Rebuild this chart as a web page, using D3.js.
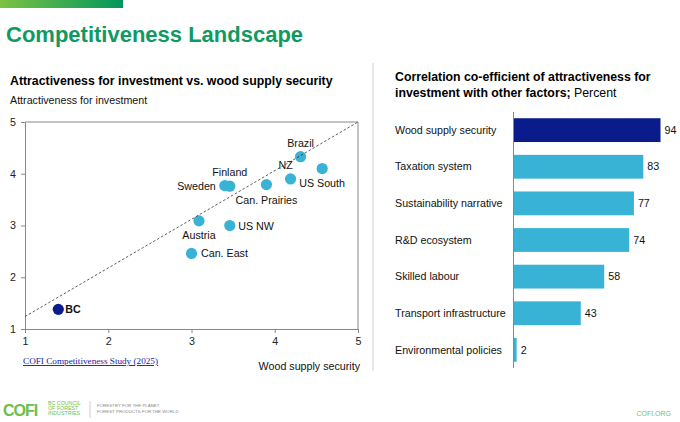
<!DOCTYPE html>
<html><head><meta charset="utf-8">
<script src="https://cdn.jsdelivr.net/npm/d3@7"></script>
<style>
html,body{margin:0;padding:0;background:#fff;}
svg{display:block;font-family:"Liberation Sans",Arial,sans-serif;}
</style></head>
<body><svg id="c" width="680" height="422"></svg>
<script>
// ---- data ----
const regions = ["BC","Brazil","US South","NZ","Can. Prairies","Finland","Sweden","Austria","US NW","Can. East"];
const woodSupply = [1.40,4.31,4.57,4.19,3.90,3.46,3.40,3.09,3.46,3.00];
const attractiveness = [1.38,4.33,4.10,3.90,3.79,3.76,3.77,3.09,3.00,2.46];
const trendX = [1,5];
const trendY = [1.24,5];
const scatterTicks = [1,2,3,4,5];
const factors = ["Wood supply security","Taxation system","Sustainability narrative","R&D ecosystem","Skilled labour","Transport infrastructure","Environmental policies"];
const correlation = [94,83,77,74,58,43,2];

const svg = d3.select("#c");
const NAVY = "#0a1c8c", LIGHT = "#38b3d6", GREEN = "#0f9a62";
const FS = 10.7;

// header bar
const defs = svg.append("defs");
const g1 = defs.append("linearGradient").attr("id","hb");
g1.append("stop").attr("offset","0%").attr("stop-color","#7cc243");
g1.append("stop").attr("offset","100%").attr("stop-color","#00965e");
svg.append("rect").attr("x",0).attr("y",0).attr("width",123).attr("height",8).attr("fill","url(#hb)");
svg.append("text").attr("x",6).attr("y",42).attr("font-size",22).attr("font-weight","bold")
  .attr("fill",GREEN).text("Competitiveness Landscape");

// left subtitle
svg.append("text").attr("x",10).attr("y",85).attr("font-size",12.3).attr("font-weight","bold")
  .attr("fill","#000").text("Attractiveness for investment vs. wood supply security");
svg.append("text").attr("x",10).attr("y",104).attr("font-size",FS).attr("fill","#111")
  .text("Attractiveness for investment");

// scatter
const x = d3.scaleLinear().domain([1,5]).range([25,358]);
const y = d3.scaleLinear().domain([1,5]).range([329,122]);
const sg = svg.append("g");
sg.append("line").attr("x1",x(1)).attr("x2",x(5)).attr("y1",y(5)).attr("y2",y(5)).attr("stroke","#888");
sg.append("line").attr("x1",x(5)).attr("x2",x(5)).attr("y1",y(5)).attr("y2",y(1)).attr("stroke","#888");
const ax = sg.append("g").attr("transform",`translate(0,${y(1)})`)
  .call(d3.axisBottom(x).tickValues(scatterTicks).tickFormat(d3.format("d")).tickSize(4).tickSizeOuter(0).tickPadding(4));
const ay = sg.append("g").attr("transform",`translate(${x(1)},0)`)
  .call(d3.axisLeft(y).tickValues(scatterTicks).tickFormat(d3.format("d")).tickSize(4).tickSizeOuter(0).tickPadding(5));
[ax,ay].forEach(a=>{
  a.selectAll("path,line").attr("stroke","#888");
  a.selectAll("text").attr("font-size",FS).attr("fill","#222").attr("font-family","Liberation Sans,Arial,sans-serif");
});

const pts = regions.map((r,i)=>({r, x:woodSupply[i], y:attractiveness[i]}));
sg.selectAll("circle.pt").data(pts).enter().append("circle")
  .attr("cx",d=>x(d.x)).attr("cy",d=>y(d.y)).attr("r",5.6)
  .attr("fill",d=>d.r==="BC"?NAVY:LIGHT);

sg.append("line").attr("x1",x(trendX[0])).attr("y1",y(trendY[0])).attr("x2",x(trendX[1])).attr("y2",y(trendY[1]))
  .attr("stroke","#333").attr("stroke-width",0.8).attr("stroke-dasharray","2.5,2");

// label placement offsets (relative to point): dx, dy(baseline), anchor
const lab = {
  "BC":[7,4,"start"], "Brazil":[0,-10,"middle"], "US South":[-23,18,"start"],
  "NZ":[-5,-10,"middle"], "Can. Prairies":[0,19,"middle"], "Finland":[0,-10,"middle"],
  "Sweden":[-9,4,"end"], "Austria":[0,18,"middle"], "US NW":[8.5,4,"start"], "Can. East":[9.5,4,"start"]
};
sg.selectAll("text.lbl").data(pts).enter().append("text")
  .attr("x",d=>x(d.x)+lab[d.r][0])
  .attr("y",d=>y(d.y)+lab[d.r][1])
  .attr("text-anchor",d=>lab[d.r][2])
  .attr("font-size",FS).attr("fill","#111")
  .attr("font-weight",d=>d.r==="BC"?"bold":"normal")
  .text(d=>d.r);

svg.append("text").attr("x",23).attr("y",364).attr("font-size",9.2)
  .attr("font-family","Liberation Serif,Times New Roman,serif").attr("fill","#1a1aa6")
  .attr("text-decoration","underline").text("COFI Competitiveness Study (2025)");
svg.append("text").attr("x",360).attr("y",370).attr("text-anchor","end").attr("font-size",FS).attr("fill","#111")
  .text("Wood supply security");

// divider
svg.append("line").attr("x1",373).attr("x2",373).attr("y1",63).attr("y2",371).attr("stroke","#d0d0d0");

// right title
svg.append("text").attr("x",395).attr("y",81).attr("font-size",12.3).attr("font-weight","bold").attr("fill","#000")
  .text("Correlation co-efficient of attractiveness for");
const t2 = svg.append("text").attr("x",395).attr("y",97).attr("font-size",12.3).attr("fill","#000");
t2.append("tspan").attr("font-weight","bold").text("investment with other factors;");
t2.append("tspan").text(" Percent");

// bars
const yb = d3.scaleBand().domain(factors).range([112,368]).paddingInner(0.35).paddingOuter(0.17);
const xb = d3.scaleLinear().domain([0,100]).range([513.5,513.5+156.4]);
const bg = svg.append("g");
const bars = factors.map((f,i)=>({f, v:correlation[i], i}));
bg.selectAll("rect").data(bars).enter().append("rect")
  .attr("x",xb(0)).attr("y",d=>yb(d.f)).attr("width",d=>xb(d.v)-xb(0)).attr("height",yb.bandwidth())
  .attr("fill",d=>d.i===0?NAVY:LIGHT);
bg.append("line").attr("x1",xb(0)).attr("x2",xb(0)).attr("y1",112).attr("y2",368).attr("stroke","#888");
bg.selectAll("text.v").data(bars).enter().append("text")
  .attr("x",d=>xb(d.v)+4).attr("y",d=>yb(d.f)+yb.bandwidth()/2).attr("dy","0.35em")
  .attr("font-size",FS).attr("fill","#111").text(d=>d.v);
bg.selectAll("text.c").data(bars).enter().append("text")
  .attr("x",395).attr("y",d=>yb(d.f)+yb.bandwidth()/2).attr("dy","0.35em")
  .attr("font-size",FS).attr("fill","#111").text(d=>d.f);

// footer
const fg = svg.append("g");
fg.append("text").attr("x",3).attr("y",416).attr("font-size",16).attr("font-weight","bold")
  .attr("fill","#6cbf4a").attr("letter-spacing",-1).text("COFI");
fg.append("text").attr("x",48).attr("y",405).attr("font-size",5.3).attr("fill","#6cbf4a").text("BC COUNCIL");
fg.append("text").attr("x",48).attr("y",410).attr("font-size",5.3).attr("fill","#6cbf4a").text("OF FOREST");
fg.append("text").attr("x",48).attr("y",415).attr("font-size",5.3).attr("fill","#6cbf4a").text("INDUSTRIES");
fg.append("line").attr("x1",90).attr("x2",90).attr("y1",401).attr("y2",418).attr("stroke","#ccc");
fg.append("text").attr("x",97).attr("y",407).attr("font-size",4.4).attr("fill","#888").text("FORESTRY FOR THE PLANET.");
fg.append("text").attr("x",97).attr("y",413).attr("font-size",4.4).attr("fill","#888").text("FOREST PRODUCTS FOR THE WORLD");
fg.append("text").attr("x",671).attr("y",416).attr("text-anchor","end").attr("font-size",7).attr("fill","#7cc25a").text("COFI.ORG");
</script></body></html>
